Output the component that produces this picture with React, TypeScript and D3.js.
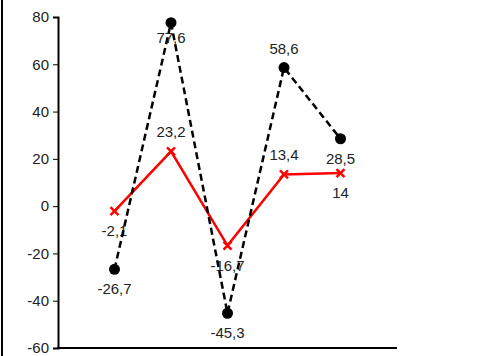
import React, { useEffect, useRef } from 'react';
import * as d3 from 'd3';

// five unnamed categories
const categories = ['1', '2', '3', '4', '5'];
const blackValues = [-26.7, 77.6, -45.3, 58.6, 28.5];
const redValues = [-2.1, 23.2, -16.7, 13.4, 14];
// where each data label sits relative to its point
const blackLabelSide = ['below', 'near', 'below', 'above', 'below'];
const redLabelSide = ['below', 'above', 'below', 'above', 'below'];
const yTicks = [-60, -40, -20, 0, 20, 40, 60, 80];

const W = 488;
const H = 356;

const fmt = (v: number) => String(v).replace('.', ',');

const App = () => {
  const svgRef = useRef<SVGSVGElement | null>(null);

  useEffect(() => {
    const svg = d3.select(svgRef.current);
    svg.selectAll('*').remove();

    const font = 'Liberation Sans, Arial, sans-serif';

    const x = d3.scalePoint<string>().domain(categories).range([58, 397]).padding(1);
    const y = d3.scaleLinear().domain([-60, 80]).range([348, 17]);
    const pxAt = (i: number) => x(categories[i]) as number;

    // outer left border
    svg.append('line')
      .attr('x1', 2).attr('x2', 2)
      .attr('y1', 0).attr('y2', H)
      .attr('stroke', '#000').attr('stroke-width', 2);

    const yAxis = d3.axisLeft(y).tickValues(yTicks).tickSize(5).tickPadding(4).tickFormat(d => String(d));
    const gy = svg.append('g').attr('transform', 'translate(58,0)').call(yAxis);
    gy.select('path.domain').attr('stroke', '#000').attr('stroke-width', 2);
    gy.selectAll('.tick line').attr('stroke', '#000').attr('stroke-width', 1);
    gy.selectAll('.tick text')
      .attr('fill', '#222')
      .style('font-family', font)
      .style('font-size', '15px');

    // x axis baseline
    svg.append('line')
      .attr('x1', 57).attr('x2', 397)
      .attr('y1', y(-60)).attr('y2', y(-60))
      .attr('stroke', '#000').attr('stroke-width', 2);

    const series = [
      { values: redValues, sides: redLabelSide, color: '#f00', dash: null, marker: 'x' },
      { values: blackValues, sides: blackLabelSide, color: '#000', dash: '7,4', marker: 'circle' },
    ];

    // labels first, lines are drawn over them
    series.forEach(s => {
      s.values.forEach((v, i) => {
        const side = s.sides[i];
        const dy = side === 'above' ? -14 : side === 'near' ? 20 : 25;
        svg.append('text')
          .attr('x', pxAt(i))
          .attr('y', y(v) + dy)
          .attr('text-anchor', 'middle')
          .attr('fill', '#222')
          .style('font-family', font)
          .style('font-size', '15px')
          .text(fmt(v));
      });
    });

    const line = d3.line<number>()
      .x((_, i) => pxAt(i))
      .y(d => y(d));

    series.forEach(s => {
      const p = svg.append('path')
        .datum(s.values)
        .attr('fill', 'none')
        .attr('stroke', s.color)
        .attr('stroke-width', 2.5)
        .attr('d', line);
      if (s.dash) p.attr('stroke-dasharray', s.dash);

      s.values.forEach((v, i) => {
        const cx = pxAt(i);
        const cy = y(v);
        if (s.marker === 'circle') {
          svg.append('circle')
            .attr('cx', cx).attr('cy', cy).attr('r', 5.5)
            .attr('fill', s.color);
        } else {
          const r = 4;
          svg.append('path')
            .attr('d', `M${cx - r},${cy - r}L${cx + r},${cy + r}M${cx - r},${cy + r}L${cx + r},${cy - r}`)
            .attr('stroke', s.color)
            .attr('stroke-width', 2.5);
        }
      });
    });
  }, []);

  return (
    <svg
      ref={svgRef}
      width={W}
      height={H}
      style={{ position: 'absolute', left: 0, top: 0, background: '#fff' }}
    />
  );
};

export default App;
